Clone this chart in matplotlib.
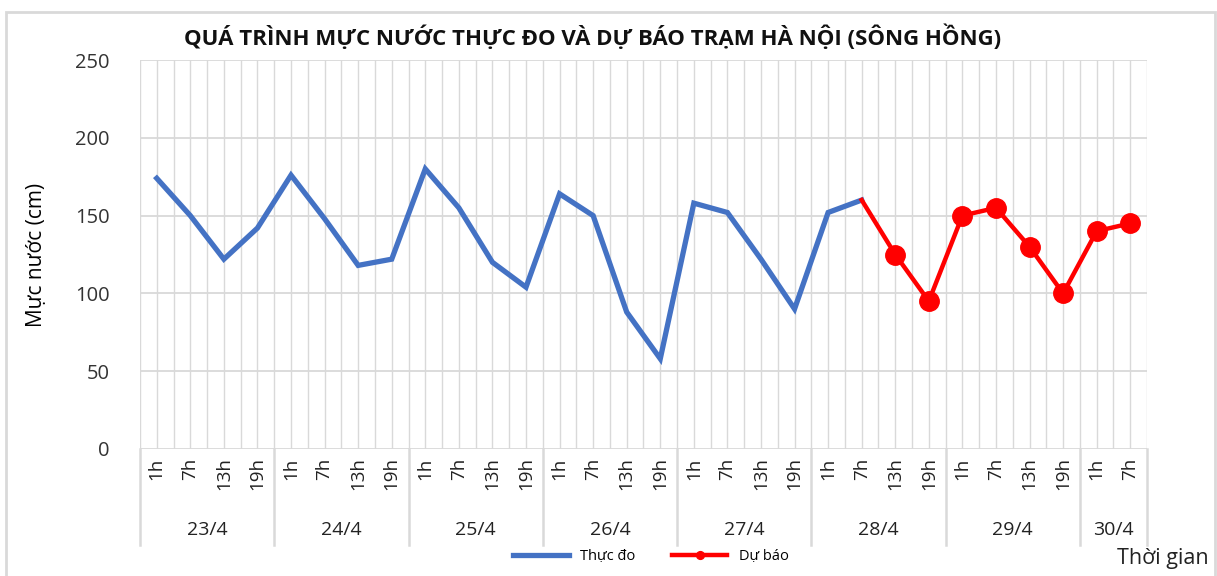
import matplotlib.pyplot as plt
from matplotlib.patches import Rectangle

plt.rcParams['font.family'] = ['Open Sans', 'DejaVu Sans']

# Category labels
dates = ["23/4", "24/4", "25/4", "26/4", "27/4", "28/4", "29/4", "30/4"]
hours_per_date = [4, 4, 4, 4, 4, 4, 4, 2]
hour_names = ["1h", "7h", "13h", "19h"]

# Observed water level (23/4 1h -> 28/4 7h)
observed = [174, 150, 122, 142,
            176, 148, 118, 122,
            180, 155, 120, 104,
            164, 150, 88, 58,
            158, 152, 122, 90,
            152, 160]
# Forecast (28/4 7h -> 30/4 7h)
forecast = [160, 125, 95,
            150, 155, 130, 100,
            140, 145]

hour_labels = []
for n in hours_per_date:
    hour_labels += hour_names[:n]
n_cat = len(hour_labels)

fig = plt.figure(figsize=(12.17, 5.76), dpi=100)
ax = fig.add_axes([0.115, 0.2205, 0.8275, 0.6753])

grid_color = '#d9d9d9'

# Lines
x_obs = list(range(len(observed)))
x_fc = list(range(len(observed) - 1, len(observed) - 1 + len(forecast)))
ax.plot(x_obs, observed, color='#4472C4', lw=3.8, solid_joinstyle='miter', zorder=3,
        label='Thực đo')
ax.plot(x_fc, forecast, color='#FF0000', lw=3.2, marker='o', markersize=14,
        markevery=list(range(1, len(forecast))), zorder=4, label='Dự báo')

# Axes limits and grid
ax.set_xlim(-0.5, n_cat - 0.5)
ax.set_ylim(0, 250)
ax.set_yticks(range(0, 251, 50))
ax.set_xticks(range(n_cat))
ax.set_xticks([i - 0.5 for i in range(n_cat + 1)], minor=True)
ax.grid(True, which='both', axis='x', color=grid_color, lw=1)
ax.grid(True, which='major', axis='y', color=grid_color, lw=1.3)
ax.set_axisbelow(True)
for s in ax.spines.values():
    s.set_visible(False)

ax.tick_params(axis='y', length=0, labelsize=14.5, pad=22, labelcolor='#333333')
ax.tick_params(axis='x', which='both', length=0, labelsize=13.5, pad=6,
               labelcolor='#222222')
ax.set_xticklabels(hour_labels, rotation=90, va='top')

# Date group separators and labels
start = 0
bounds = [-0.5]
for d, n in zip(dates, hours_per_date):
    center = start + (n - 1) / 2
    ax.text(center, -0.208, d, transform=ax.get_xaxis_transform(), ha='center',
            va='center', fontsize=14, color='#222222')
    start += n
    bounds.append(start - 0.5)
for b in bounds:
    ax.axvline(b, ymin=-0.247, ymax=0, color=grid_color, lw=1.8, clip_on=False)

ax.set_ylabel('Mực nước (cm)', fontsize=15)
ax.yaxis.set_label_coords(-0.092, 0.5)

fig.text(0.487, 0.935, 'QUÁ TRÌNH MỰC NƯỚC THỰC ĐO VÀ DỰ BÁO TRẠM HÀ NỘI (SÔNG HỒNG)',
         ha='center', va='center', fontsize=16, fontweight='bold', color='#111111')

fig.legend(loc='center', bbox_to_anchor=(0.535, 0.033), ncol=2, frameon=False,
           fontsize=10.5, handlelength=3.8, columnspacing=2.5, markerscale=0.4)

fig.text(0.993, 0.03, 'Thời gian', ha='right', va='center', fontsize=15.5, color='#222222')

fig.patches.append(Rectangle((0.005, -0.02), 0.993, 1.0, transform=fig.transFigure,
                             fill=False, edgecolor=grid_color, lw=2))

fig.savefig('out.png', dpi=100)
